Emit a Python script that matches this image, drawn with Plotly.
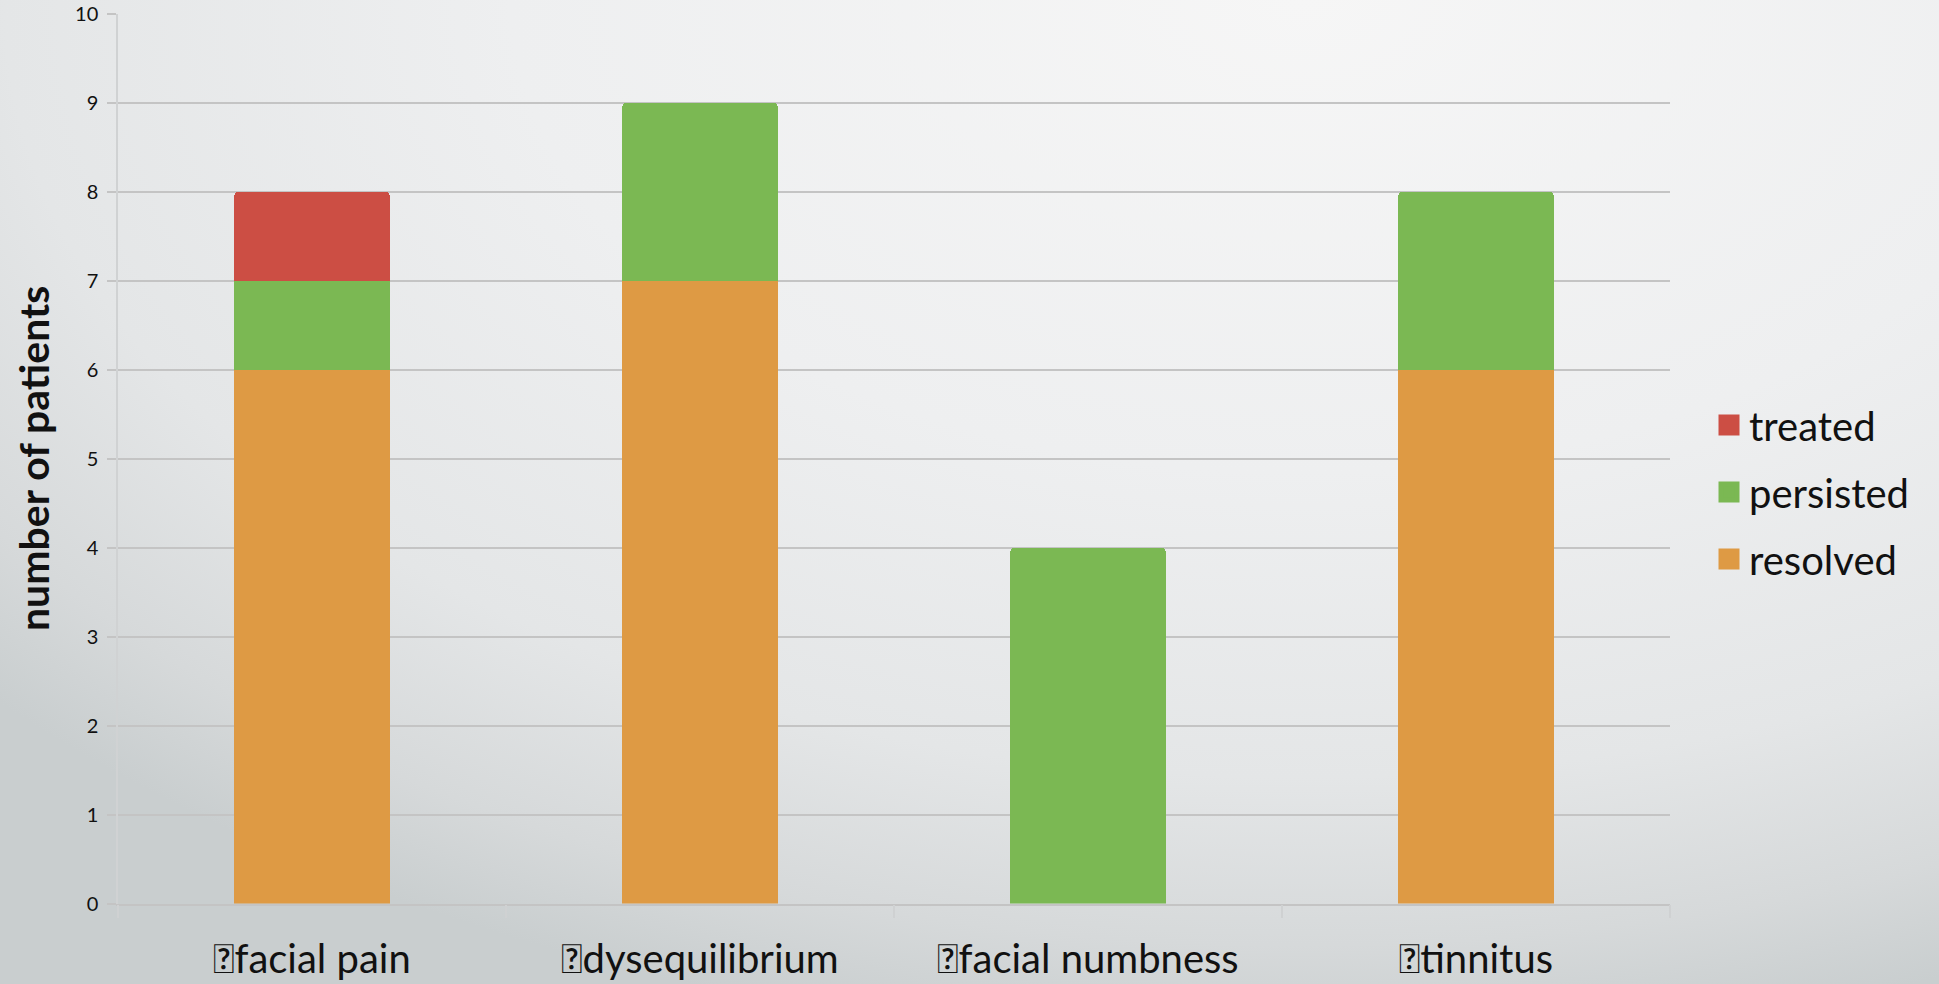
import base64
import plotly.graph_objects as go

# ---- data ----
categories = ["\uf0d8facial pain", "\uf0d8dysequilibrium", "\uf0d8facial numbness", "\uf0d8tinnitus"]
resolved = [6, 7, 0, 6]
persisted = [1, 2, 4, 2]
treated = [1, 0, 0, 0]
series_names = ["resolved", "persisted", "treated"]
y_ticks = list(range(0, 11))

colors = {"resolved": "#de9a44", "persisted": "#7bb853", "treated": "#cc4e44"}
FONT = "Lato"

W, H = 1939, 984

# background: soft radial gradient (light top-centre, darker bottom)
svg = f'''<svg xmlns="http://www.w3.org/2000/svg" width="{W}" height="{H}">
<defs><radialGradient id="g" gradientUnits="userSpaceOnUse" cx="0" cy="0" r="1"
 gradientTransform="translate(1300,0) scale(1750,1050)">
<stop offset="0" stop-color="#f6f6f6"/>
<stop offset="0.45" stop-color="#eeeff0"/>
<stop offset="0.74" stop-color="#e4e6e7"/>
<stop offset="0.9" stop-color="#d6d9da"/>
<stop offset="1" stop-color="#c9cecf"/>
</radialGradient></defs>
<rect x="0" y="0" width="{W}" height="{H}" fill="url(#g)"/></svg>'''
bg_uri = "data:image/svg+xml;base64," + base64.b64encode(svg.encode()).decode()

fig = go.Figure()
for name, vals in zip(series_names, [resolved, persisted, treated]):
    fig.add_trace(go.Bar(x=categories, y=vals, name=name,
                         marker=dict(color=colors[name], line=dict(width=0)),
                         showlegend=False))

# legend entries (larger square symbols)
for name in ["treated", "persisted", "resolved"]:
    fig.add_trace(go.Scatter(x=[None], y=[None], mode="markers", name=name,
                             legendgroup=name,
                             marker=dict(symbol="square", size=16, color=colors[name],
                                         line=dict(width=5, color=colors[name]))))

grid = "#c4c4c4"
fig.update_layout(
    width=W, height=H,
    margin=dict(l=0, r=0, t=0, b=0, autoexpand=False),
    paper_bgcolor="#dcdfe0",
    plot_bgcolor="rgba(0,0,0,0)",
    barmode="stack",
    bargap=0.6,
    barcornerradius=4,
    font=dict(family=FONT, color="#111111"),
    images=[dict(source=bg_uri, xref="paper", yref="paper", x=0, y=1,
                 sizex=1, sizey=1, sizing="stretch", layer="below",
                 xanchor="left", yanchor="top")],
    xaxis=dict(domain=[118 / W, 1670 / W], range=[-0.5, 3.5], automargin=False,
               showgrid=False, showline=True, linecolor=grid, linewidth=1.5,
               ticks="outside", tickson="boundaries", ticklen=13, tickwidth=1.5,
               tickcolor="#cfd1d2", ticklabelstandoff=20,
               tickfont=dict(size=40, family=FONT, color="#111111")),
    yaxis=dict(domain=[1 - 903.6 / H, 1 - 14 / H], range=[0, 10], automargin=False,
               tickvals=y_ticks, showgrid=True, gridcolor=grid, gridwidth=1.5,
               zeroline=False, showline=True, linecolor="#d0d2d3", linewidth=1.5,
               ticks="outside", ticklen=9, tickwidth=1.5, tickcolor=grid,
               ticklabelstandoff=5,
               tickfont=dict(size=20, family=FONT, color="#111111")),
    legend=dict(x=1709 / W, y=0.5, xanchor="left", yanchor="middle",
                traceorder="grouped", tracegroupgap=12,
                bgcolor="rgba(0,0,0,0)", font=dict(size=40, family=FONT, color="#111111")),
    annotations=[dict(text="<b>number of patients</b>", xref="paper", yref="paper",
                      x=33 / W, y=1 - 459 / H, textangle=-90, showarrow=False,
                      xanchor="center", yanchor="middle",
                      font=dict(size=41, family=FONT, color="#111111"))],
)

fig.write_html("out.html")
